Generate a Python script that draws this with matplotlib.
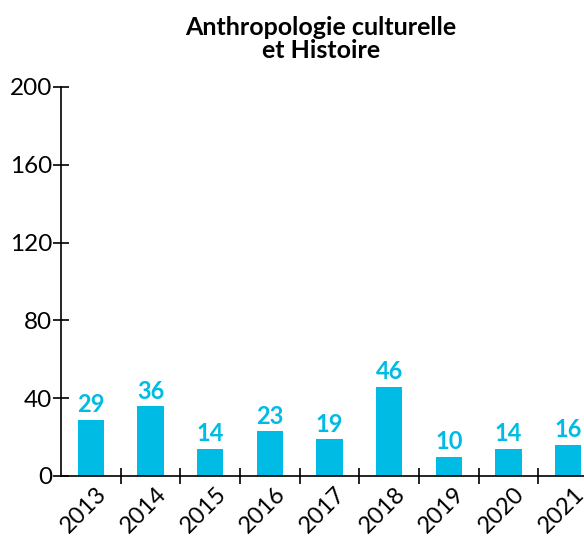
import matplotlib.pyplot as plt
import matplotlib.transforms as mtransforms
import numpy as np

years = ["2013", "2014", "2015", "2016", "2017", "2018", "2019", "2020", "2021"]
counts = [29, 36, 14, 23, 19, 46, 10, 14, 16]
y_ticks = [0, 40, 80, 120, 160, 200]

bar_color = "#00BCE4"
plt.rcParams['font.family'] = ['Lato', 'DejaVu Sans']

fig = plt.figure(figsize=(5.84, 5.39), dpi=100)
ax = fig.add_axes([61 / 584, 1 - 476 / 539, 537 / 584, 389 / 539])

x = np.arange(len(years))
bars = ax.bar(x, counts, width=0.44, color=bar_color, zorder=2)

# value labels above each bar
for bar, val in zip(bars, counts):
    ax.annotate(f"{val}", (bar.get_x() + bar.get_width() / 2, val),
                xytext=(0, 2.5), textcoords="offset points",
                ha='center', va='bottom', color=bar_color,
                fontsize=17, fontweight='bold')

ax.set_xlim(-0.5, len(years) - 0.5)
ax.set_ylim(0, 200)

# year labels at bar centres, tick marks between categories
ax.set_xticks(x)
ax.set_xticklabels(years, rotation=45, ha='right', rotation_mode='anchor', fontsize=17)
ax.tick_params(axis='x', which='major', length=0, pad=5)
offset = mtransforms.ScaledTranslation(5 / 100, 0, fig.dpi_scale_trans)
for lbl in ax.get_xticklabels():
    lbl.set_transform(lbl.get_transform() + offset)
ax.set_xticks(x[:-1] + 0.5, minor=True)
ax.tick_params(axis='x', which='minor', direction='inout', length=11, width=1.2)

ax.set_yticks(y_ticks)
ax.tick_params(axis='y', direction='inout', length=11, width=1.2, labelsize=17.5, pad=1)

for side in ['top', 'right']:
    ax.spines[side].set_visible(False)
for side in ['left', 'bottom']:
    ax.spines[side].set_linewidth(1.2)

fig.text(321 / 584, 1 - 39 / 539, "Anthropologie culturelle\net Histoire",
         ha='center', va='center', fontsize=18, fontweight='bold', linespacing=1.05)

plt.savefig("out.png", dpi=100)
plt.close()
